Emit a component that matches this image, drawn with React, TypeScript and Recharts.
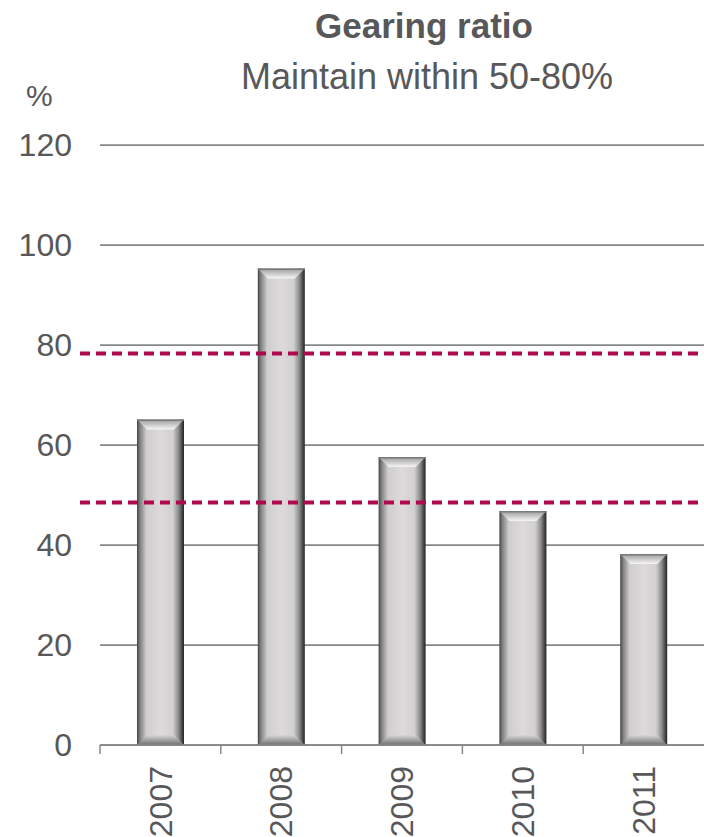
import React from "react";
import { Bar, BarChart, CartesianGrid, ReferenceLine, XAxis, YAxis } from "recharts";

const years = ["2007", "2008", "2009", "2010", "2011"];
const gearing = [65.1, 95.3, 57.6, 46.8, 38.2];
const yTicks = [0, 20, 40, 60, 80, 100, 120];
const targetBand = [48.5, 78.3];

const data = years.map((year, i) => ({ year, value: gearing[i] }));

const ink = "#58585a";
const grid = "#878787";
const crimson = "#b0094f";
const font = "'Liberation Sans', Arial, sans-serif";

function BevelBar(props: any) {
  const { x, y, width, height } = props;
  if (!height || height <= 0) return null;
  const b = Math.min(10, width / 4, height / 2);
  return (
    <g>
      <rect x={x} y={y} width={width} height={height} fill="url(#barBody)" />
      <polygon
        points={`${x},${y} ${x + width},${y} ${x + width - b},${y + b} ${x + b},${y + b}`}
        fill="url(#barTop)"
      />
      <polygon
        points={`${x + b},${y + height - b} ${x + width - b},${y + height - b} ${x + width},${y + height} ${x},${y + height}`}
        fill="url(#barBottom)"
      />
      <line x1={x} x2={x + width} y1={y + 0.75} y2={y + 0.75} stroke="#7a7a7a" strokeWidth={1.5} />
    </g>
  );
}

function YearTick(props: any) {
  const { x, y, payload } = props;
  const off = payload?.offset ?? 0;
  return (
    <g>
      <line x1={x - off} x2={x - off} y1={y} y2={y + 9} stroke={grid} strokeWidth={1.5} />
      <text
        x={x}
        y={y + 21}
        transform={`rotate(-90 ${x} ${y + 21})`}
        textAnchor="end"
        dy="0.35em"
        fill={ink}
        fontSize={32}
        fontFamily={font}
      >
        {payload.value}
      </text>
    </g>
  );
}

function DashedBand(props: any) {
  const { x1, x2, y1, y2 } = props;
  return (
    <line x1={x1 - 20} x2={x2} y1={y1} y2={y2} stroke={crimson} strokeWidth={4} strokeDasharray="10 6" />
  );
}

export default function App() {
  return (
    <div style={{ position: "absolute", left: 0, top: 0, width: 704, height: 837, background: "#fff" }}>
      <BarChart
        width={704}
        height={837}
        data={data}
        margin={{ top: 145, right: 0, bottom: 0, left: 0 }}
        barSize={47}
      >
        <defs>
          <linearGradient id="barBody" x1="0" y1="0" x2="1" y2="0">
            <stop offset="0%" stopColor="#444444" />
            <stop offset="6%" stopColor="#7e7e7e" />
            <stop offset="20%" stopColor="#cfcdce" />
            <stop offset="50%" stopColor="#dedadb" />
            <stop offset="76%" stopColor="#d3d0d1" />
            <stop offset="88%" stopColor="#8e8e8e" />
            <stop offset="100%" stopColor="#222222" />
          </linearGradient>
          <linearGradient id="barTop" x1="0" y1="0" x2="0" y2="1">
            <stop offset="0%" stopColor="#9a9a9a" />
            <stop offset="100%" stopColor="#f6f6f6" />
          </linearGradient>
          <linearGradient id="barBottom" x1="0" y1="0" x2="0" y2="1">
            <stop offset="0%" stopColor="#d8d6d7" />
            <stop offset="100%" stopColor="#707070" />
          </linearGradient>
        </defs>
        <CartesianGrid vertical={false} stroke={grid} strokeWidth={1.75} />
        <XAxis
          dataKey="year"
          axisLine={{ stroke: grid, strokeWidth: 1.75 }}
          tickLine={false}
          tickSize={0}
          tickMargin={0}
          interval={0}
          height={92}
          tick={<YearTick />}
        />
        <YAxis
          domain={[0, 120]}
          ticks={yTicks}
          width={100}
          axisLine={false}
          tickLine={false}
          tickMargin={22}
          tick={{ fill: ink, fontSize: 32, fontFamily: font }}
        />
        <Bar dataKey="value" shape={<BevelBar />} isAnimationActive={false} />
        {targetBand.map((v) => (
          <ReferenceLine key={v} y={v} shape={<DashedBand />} ifOverflow="visible" />
        ))}
      </BarChart>
      <svg
        width={704}
        height={120}
        style={{ position: "absolute", left: 0, top: 0, pointerEvents: "none" }}
      >
        <text x={424} y={38} textAnchor="middle" fill={ink} fontSize={35} fontWeight="bold" fontFamily={font}>
          Gearing ratio
        </text>
        <text x={427} y={89} textAnchor="middle" fill={ink} fontSize={36} fontFamily={font}>
          Maintain within 50-80%
        </text>
        <text x={26} y={106} fill={ink} fontSize={30} fontFamily={font}>
          %
        </text>
      </svg>
    </div>
  );
}
